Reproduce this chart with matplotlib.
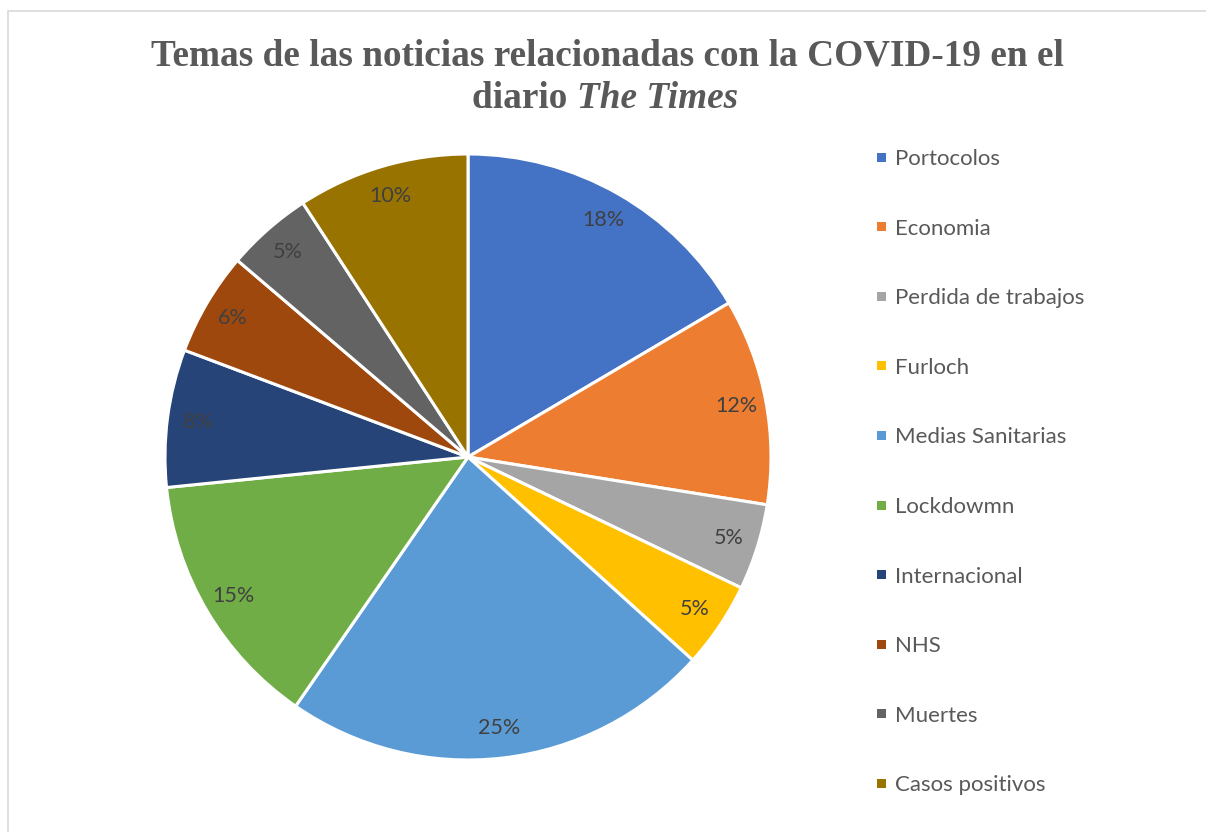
import matplotlib
matplotlib.use("Agg")
import matplotlib.pyplot as plt
from matplotlib.patches import Rectangle

# data
categories = ["Portocolos", "Economia", "Perdida de trabajos", "Furloch",
              "Medias Sanitarias", "Lockdowmn", "Internacional", "NHS",
              "Muertes", "Casos positivos"]
values = [18, 12, 5, 5, 25, 15, 8, 6, 5, 10]
colors = ["#4472C4", "#ED7D31", "#A5A5A5", "#FFC000", "#5B9BD5",
          "#70AD47", "#264478", "#9E480E", "#636363", "#997300"]

W, H = 1206, 832
fig = plt.figure(figsize=(W / 100, H / 100), dpi=100)

# chart border
fig.patches.append(Rectangle((7.5 / W, -0.1), 1.2, (H - 10.5) / H + 0.1,
                             transform=fig.transFigure, fill=False,
                             edgecolor="#D9D9D9", linewidth=1.2))

cx, cy, r = 468, 457, 303
ax = fig.add_axes([(cx - r) / W, (H - cy - r) / H, 2 * r / W, 2 * r / H])

total = sum(values)
wedges, _, autotexts = ax.pie(
    values, colors=colors, startangle=90, counterclock=False,
    wedgeprops=dict(edgecolor="white", linewidth=2.2),
    autopct=lambda p: "%d%%" % round(p * total / 100.0),
    pctdistance=0.9,
    textprops=dict(color="#404040", fontsize=15.5, family="Lato"))
ax.set_xlim(-1, 1)
ax.set_ylim(-1, 1)

# title
tcol = "#595959"
tsize = 26.8
fig.text(607.5 / W, 1 - 65 / H,
         "Temas de las noticias relacionadas con la COVID-19 en el",
         ha="center", va="baseline", fontsize=tsize, fontweight="bold",
         family="Liberation Serif", color=tcol)

# second line: "diario " upright + "The Times" italic, centred together
renderer = fig.canvas.get_renderer()
t1 = fig.text(0, 1 - 108 / H, "diario ", ha="left", va="baseline",
              fontsize=tsize, fontweight="bold", family="Liberation Serif",
              color=tcol)
t2 = fig.text(0, 1 - 108 / H, "The Times", ha="left", va="baseline",
              fontsize=tsize, fontweight="bold", style="italic",
              family="Liberation Serif", color=tcol)
w1 = t1.get_window_extent(renderer).width
w2 = t2.get_window_extent(renderer).width
x0 = 605 - (w1 + w2) / 2
t1.set_x(x0 / W)
t2.set_x((x0 + w1) / W)

# legend
for i, (name, c) in enumerate(zip(categories, colors)):
    y = 157 + i * 69.6
    fig.patches.append(Rectangle((877 / W, 1 - (y + 4.5) / H), 9 / W, 9 / H,
                                 transform=fig.transFigure, facecolor=c,
                                 edgecolor="none"))
    fig.text(895 / W, 1 - y / H, name, ha="left", va="center_baseline",
             fontsize=16, family="Lato", color=tcol)

fig.savefig("out.png", dpi=100)
